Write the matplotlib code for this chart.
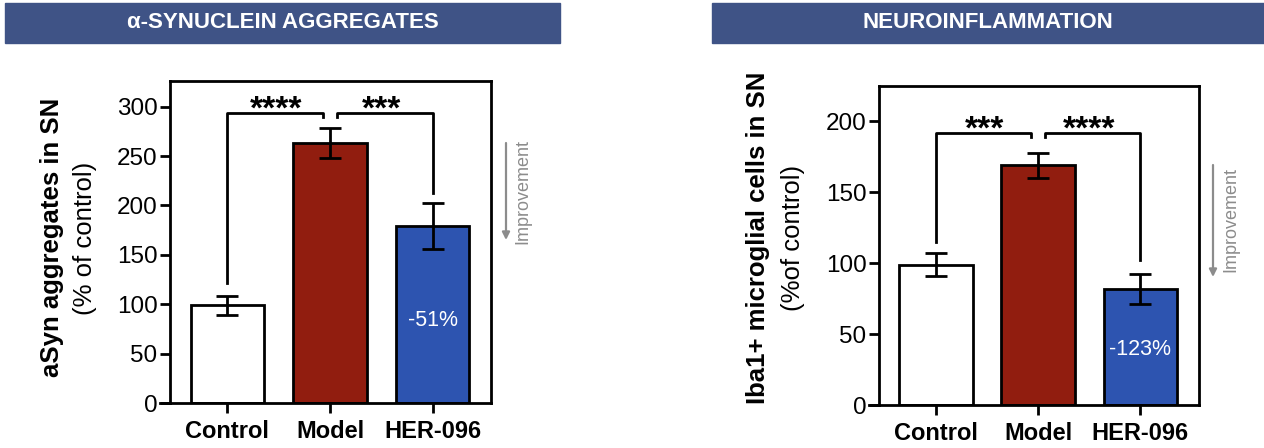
import matplotlib
matplotlib.use("Agg")
import matplotlib.pyplot as plt
from matplotlib.patches import Rectangle

plt.rcParams['font.family'] = ['Liberation Sans', 'DejaVu Sans']

groups = ['Control', 'Model', 'HER-096']
colors = ['#ffffff', '#911d0f', '#2d54b0']

# left panel: alpha-synuclein aggregates
asyn_mean = [99, 263, 179]
asyn_err = [9.5, 15, 23]
asyn_stars = ['****', '***']
asyn_pct = '-51%'

# right panel: Iba1+ microglia
iba_mean = [99, 169, 82]
iba_err = [8, 9, 10.5]
iba_stars = ['***', '****']
iba_pct = '-123%'

W, H = 1264, 448
fig = plt.figure(figsize=(W / 100, H / 100), dpi=100)
header_col = '#3f5386'


def header(x0, x1, text):
    fig.patches.append(Rectangle((x0 / W, (H - 43) / H), (x1 - x0) / W, 40 / H,
                                 transform=fig.transFigure, color=header_col, zorder=0))
    fig.text((x0 + x1) / 2 / W, (H - 23) / H, text, color='white', fontsize=16,
             fontweight='bold', ha='center', va='center')


def panel(rect, mean, err, ymax, yticks, stars, brackets, pct, pct_y):
    ax = fig.add_axes(rect)
    x = range(len(groups))
    ax.bar(x, mean, width=0.72, color=colors, edgecolor='black', linewidth=2, zorder=2)
    ax.errorbar(x, mean, yerr=err, fmt='none', ecolor='black', elinewidth=2,
                capsize=8, capthick=2, zorder=3)
    ax.set_xlim(-0.56, 2.57)
    ax.set_ylim(0, ymax)
    ax.set_yticks(yticks)
    ax.set_xticks(list(x))
    ax.set_xticklabels(groups, fontweight='bold', fontsize=17)
    ax.tick_params(axis='y', labelsize=17.5, length=7, width=2, pad=2)
    ax.tick_params(axis='x', length=7, width=2, pad=5)
    for s in ax.spines.values():
        s.set_linewidth(2)
    ax.plot([-0.03, 0], [0, 0], color='black', lw=2, transform=ax.transAxes, clip_on=False)

    c0, top, h2 = brackets
    drop = 4.5 * ymax / 326
    ax.plot([0, 0, 0.93, 0.93], [c0, top, top, top - drop],
            color='black', lw=2, clip_on=False)
    ax.plot([1.07, 1.07, 2, 2], [top - drop, top, top, h2],
            color='black', lw=2, clip_on=False)
    for sx, st in zip([0.47, 1.5], stars):
        ax.annotate(st, xy=(sx, top), xytext=(0, -4.5), textcoords='offset points',
                    ha='center', va='baseline', fontsize=24, fontweight='bold')
    ax.text(2, pct_y, pct, ha='center', va='center', color='white', fontsize=15.5)
    return ax


header(5, 560, 'α-SYNUCLEIN AGGREGATES')
header(712, 1264, 'NEUROINFLAMMATION')

panel([170 / W, 45 / H, 321 / W, 322 / H], asyn_mean, asyn_err, 326,
      [0, 50, 100, 150, 200, 250, 300], asyn_stars, (121, 294, 213), asyn_pct, 84)
panel([879 / W, 43 / H, 319.5 / W, 319 / H], iba_mean, iba_err, 225,
      [0, 50, 100, 150, 200], iba_stars, (115, 192, 102), iba_pct, 39)

# axis titles
fig.text(52 / W, (H - 237) / H, 'aSyn aggregates in SN', rotation=90, fontsize=18.5,
         fontweight='bold', ha='center', va='center')
fig.text(85 / W, (H - 238) / H, '(% of control)', rotation=90, fontsize=18.5,
         ha='center', va='center')
fig.text(758 / W, (H - 238) / H, 'Iba1+ microglial cells in SN', rotation=90, fontsize=18.5,
         fontweight='bold', ha='center', va='center')
fig.text(793 / W, (H - 238) / H, '(%of control)', rotation=90, fontsize=18.5,
         ha='center', va='center')

# improvement arrows
for ax_x, y0, y1, tx, ty in [(506, 143, 240, 523, 191), (1213, 165, 277, 1231, 220)]:
    fig.add_artist(plt.Annotation('', xy=(ax_x, H - y1), xytext=(ax_x, H - y0),
                                  xycoords='figure pixels', textcoords='figure pixels',
                                  arrowprops=dict(arrowstyle='-|>', color='#8c8c8c', lw=1.6,
                                                  mutation_scale=11, shrinkA=0, shrinkB=0)))
    fig.text(tx / W, (H - ty) / H, 'Improvement', rotation=90, color='#8c8c8c', fontsize=13,
             ha='center', va='center')

fig.savefig('out.png', dpi=100, facecolor='white')
